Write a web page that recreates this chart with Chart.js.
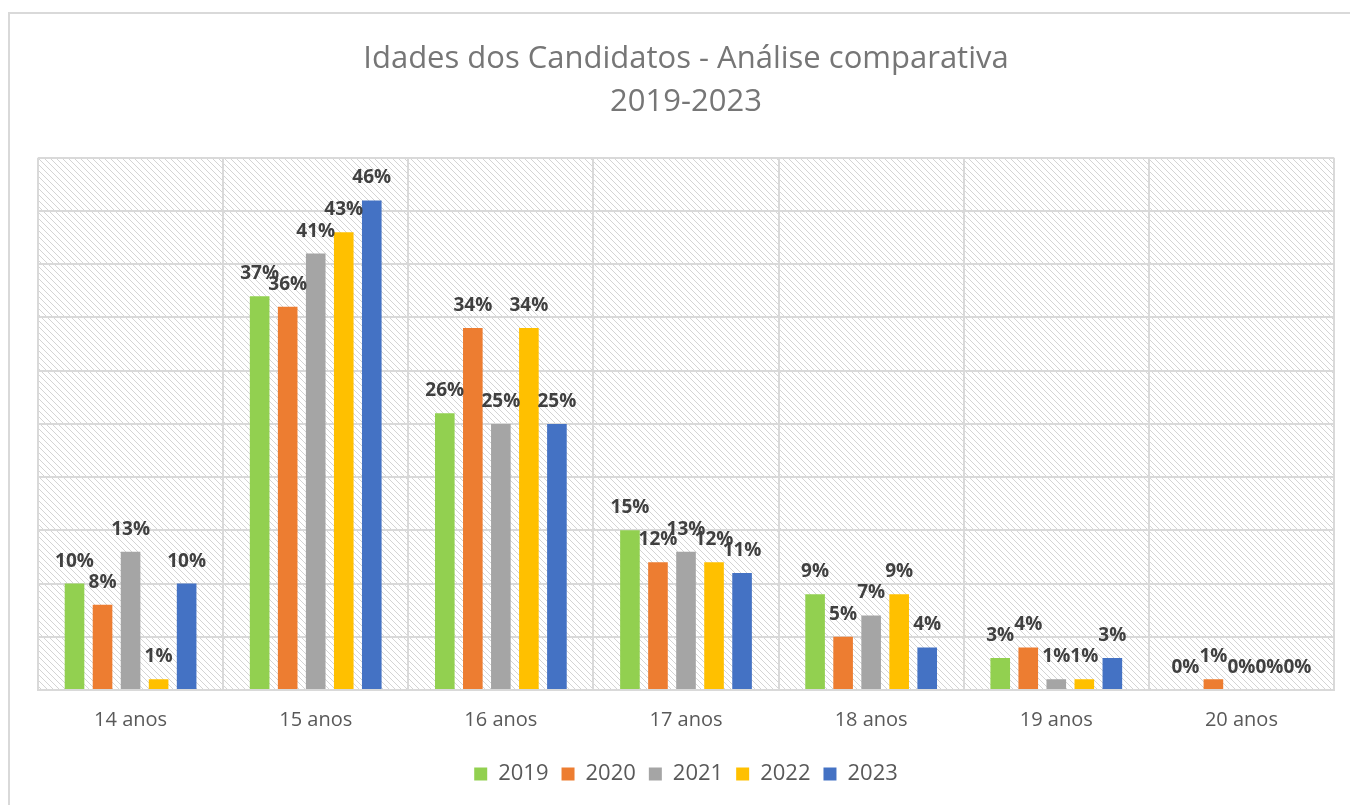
<!DOCTYPE html>
<html>
<head>
<meta charset="utf-8">
<script src="https://cdn.jsdelivr.net/npm/chart.js@4"></script>
<style>
  html, body { margin: 0; padding: 0; background: #fff; }
  #wrap { width: 1350px; height: 805px; }
</style>
</head>
<body>
<div id="wrap"><canvas id="idades"></canvas></div>
<script>
const ageLabels = ['14 anos', '15 anos', '16 anos', '17 anos', '18 anos', '19 anos', '20 anos'];
const years = ['2019', '2020', '2021', '2022', '2023'];
const pct2019 = [10, 37, 26, 15, 9, 3, 0];
const pct2020 = [8, 36, 34, 12, 5, 4, 1];
const pct2021 = [13, 41, 25, 13, 7, 1, 0];
const pct2022 = [1, 43, 34, 12, 9, 1, 0];
const pct2023 = [10, 46, 25, 11, 4, 3, 0];
const yearColors = ['#92d050', '#ed7d31', '#a5a5a5', '#ffc000', '#4472c4'];

function hatchPattern(ctx) {
  const tile = document.createElement('canvas');
  tile.width = 6;
  tile.height = 6;
  const t = tile.getContext('2d');
  t.fillStyle = '#ffffff';
  t.fillRect(0, 0, 6, 6);
  t.strokeStyle = '#d4d4d4';
  t.lineWidth = 1;
  for (let k = -1; k <= 1; k++) {
    t.beginPath();
    t.moveTo(k * 6, 0);
    t.lineTo(k * 6 + 6, 6);
    t.stroke();
  }
  return ctx.createPattern(tile, 'repeat');
}

// frame + hatched plot background
const backdrop = {
  id: 'backdrop',
  beforeDraw(chart) {
    const {ctx, chartArea} = chart;
    ctx.save();
    ctx.fillStyle = '#ffffff';
    ctx.fillRect(0, 0, chart.width, chart.height);
    ctx.strokeStyle = '#d9d9d9';
    ctx.lineWidth = 2;
    ctx.beginPath();
    ctx.moveTo(9, chart.height);
    ctx.lineTo(9, 13);
    ctx.lineTo(chart.width, 13);
    ctx.stroke();
    ctx.fillStyle = hatchPattern(ctx);
    ctx.fillRect(chartArea.left, chartArea.top, chartArea.right - chartArea.left, chartArea.bottom - chartArea.top);
    ctx.restore();
  }
};

// percentage labels over the bars
const barValues = {
  id: 'barValues',
  afterDatasetsDraw(chart) {
    const {ctx} = chart;
    ctx.save();
    ctx.font = 'bold 19px "Open Sans"';
    ctx.fillStyle = '#404040';
    ctx.textAlign = 'center';
    ctx.textBaseline = 'alphabetic';
    chart.data.datasets.forEach((ds, i) => {
      chart.getDatasetMeta(i).data.forEach((bar, j) => {
        ctx.fillText(ds.data[j] + '%', bar.x, bar.y - 17);
      });
    });
    ctx.restore();
  }
};

const series = [pct2019, pct2020, pct2021, pct2022, pct2023];

new Chart(document.getElementById('idades'), {
  type: 'bar',
  data: {
    labels: ageLabels,
    datasets: years.map((year, i) => ({
      label: year,
      data: series[i],
      backgroundColor: yearColors[i],
      borderWidth: 0,
      categoryPercentage: 0.757,
      barPercentage: 0.7,
    }))
  },
  options: {
    responsive: true,
    maintainAspectRatio: false,
    animation: false,
    layout: {
      padding: {left: 38, right: 16, top: 0, bottom: 10}
    },
    scales: {
      x: {
        grid: {
          offset: true,
          color: '#d9d9d9',
          lineWidth: 2,
          drawTicks: false,
        },
        border: {color: '#d9d9d9', width: 2},
        ticks: {
          color: '#595959',
          font: {family: '"Open Sans"', size: 20},
          padding: 18,
        }
      },
      y: {
        min: 0,
        max: 50,
        ticks: {display: false, stepSize: 5},
        grid: {color: '#d9d9d9', lineWidth: 2, drawTicks: false},
        border: {display: false},
      }
    },
    plugins: {
      title: {
        display: true,
        text: ['Idades dos Candidatos - Análise comparativa', '2019-2023'],
        color: '#767676',
        font: {family: '"Open Sans"', size: 31, weight: 'normal', lineHeight: 1.4},
        padding: {top: 37, bottom: 34},
      },
      legend: {
        position: 'bottom',
        labels: {
          boxWidth: 13,
          boxHeight: 13,
          padding: 13,
          color: '#595959',
          font: {family: '"Open Sans"', size: 22},
        }
      },
      tooltip: {enabled: false}
    }
  },
  plugins: [backdrop, barValues]
});
</script>
</body>
</html>
